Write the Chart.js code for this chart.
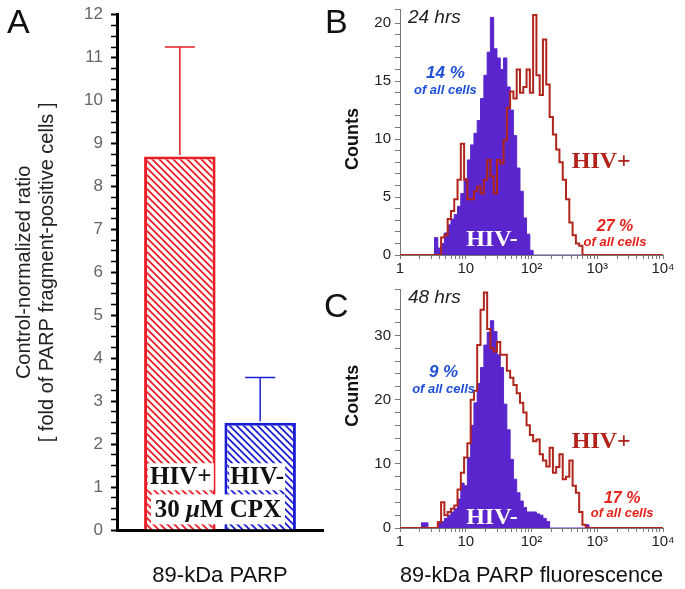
<!DOCTYPE html>
<html>
<head>
<meta charset="utf-8">
<script src="https://cdn.jsdelivr.net/npm/chart.js@4.4.0/dist/chart.umd.min.js"></script>
<style>
	body { margin: 0; background: #fff; width: 685px; height: 589px; position: relative; overflow: hidden; font-family: 'Liberation Sans', Arial, sans-serif; }
	canvas { position: absolute; }
	.panel { position: absolute; font-size: 34px; color: #111; line-height: 1; }
</style>
</head>
<body>
<canvas id="barChart" style="left:0;top:0" width="340" height="589"></canvas>
<canvas id="hist24" style="left:340px;top:0" width="345" height="280"></canvas>
<canvas id="hist48" style="left:340px;top:280px" width="345" height="309"></canvas>
<div class="panel" style="left:7px;top:4px">A</div>
<div class="panel" style="left:325px;top:4px">B</div>
<div class="panel" style="left:324px;top:288px">C</div>
<script>
// panel A: 89-kDa PARP fragment, control-normalized
var barGroups = ['HIV+', 'HIV-'];
var barMeans = [8.7, 2.5];
var barErrors = [2.55, 1.05];

// panels B, C: fluorescence channel (log scale) and counts per channel
var channels = [1,
	2.00, 2.24, 2.51, 2.82, 3.16, 3.55, 3.98, 4.47, 5.01, 5.62, 6.31, 7.08, 7.94, 8.91,
	10.0, 11.2, 12.6, 14.1, 15.8, 17.8, 20.0, 22.4, 25.1, 28.2, 31.6, 35.5, 39.8, 44.7, 50.1, 56.2, 63.1, 70.8, 79.4, 89.1,
	100, 112, 126, 141, 158, 178, 200, 224, 251, 282, 316, 355, 398, 447, 501, 562, 631, 708, 794,
	10000];
var neg24 = [0,
	0, 0, 0, 0, 0, 1.5, 0.6, 1.0, 1.9, 2.6, 3.1, 3.5, 4.2, 5.3,
	6.6, 8.2, 9.5, 10.5, 11.6, 13.5, 15.5, 17.5, 20.5, 17.8, 17.0, 16.0, 17.0, 14.5, 12.5, 10.3, 7.5, 5.5, 3.2, 1.8,
	0.4, 0, 0, 0, 0, 0, 0, 0, 0, 0, 0, 0, 0, 0, 0, 0, 0, 0, 0,
	0];
var pos24 = [0,
	0, 0, 0, 0, 0, 0, 0, 1.5, 1.7, 3.1, 3.8, 4.8, 6.5, 9.6,
	6.5, 4.8, 4.8, 5.5, 5.9, 5.3, 6.5, 8.2, 6.8, 5.3, 8.2, 7.9, 9.9, 12.7, 14.1, 13.5, 16.0, 14.0, 14.5, 16.0,
	14.0, 20.7, 15.5, 13.8, 18.6, 14.7, 11.9, 10.4, 9.1, 8.0, 6.5, 4.8, 2.8, 1.7, 1.0, 0.8, 0, 0, 0,
	0];
var neg48 = [0,
	0, 0.8, 0.8, 0, 0, 0, 1.0, 1.0, 1.5, 2.0, 2.5, 3.0, 4.5, 7.0,
	6.6, 11.0, 16.0, 19.5, 22.5, 25.0, 28.5, 30.5, 32.3, 30.6, 27.0, 25.0, 19.3, 15.3, 10.7, 7.6, 5.5, 4.2, 3.2, 2.5,
	2.5, 2.5, 2.2, 2.0, 1.5, 1.0, 0, 0, 0, 0, 0, 0, 0, 0, 0, 0, 0, 0.5, 0,
	0];
var pos48 = [0,
	0, 0, 0, 0, 0, 0, 0.9, 4.0, 2.0, 2.5, 3.0, 3.5, 6.0, 8.6,
	11.0, 13.2, 20.0, 21.4, 28.5, 34.0, 36.7, 31.0, 28.0, 27.5, 29.0, 27.0, 27.0, 24.5, 23.4, 22.3, 21.0, 19.5, 18.0, 16.0,
	14.5, 13.5, 13.8, 11.5, 10.5, 9.6, 12.5, 8.6, 9.5, 11.5, 7.6, 8.0, 10.5, 6.6, 5.5, 2.5, 0.5, 0, 0,
	0];
var xTickLabels = ['1', '10', '10\u00B2', '10\u00B3', '10\u2074'];

var barColors = ['#ea1d25', '#1b1fd4'];
var purple = '#5a25cc';
var lineRed = '#b0261d';
var sans = "'Liberation Sans', Arial, sans-serif";
var serif = "'Liberation Serif', 'Times New Roman', serif";

Chart.defaults.font.family = sans;
Chart.defaults.animation = false;
Chart.defaults.responsive = false;
Chart.defaults.plugins.legend.display = false;
Chart.defaults.plugins.tooltip.enabled = false;

function hatch(color) {
	var c = document.createElement('canvas');
	c.width = 7; c.height = 7;
	var g = c.getContext('2d');
	g.fillStyle = '#fff';
	g.fillRect(0, 0, 7, 7);
	g.strokeStyle = color;
	g.lineWidth = 1.8;
	g.beginPath();
	g.moveTo(-1, -1); g.lineTo(8, 8);
	g.moveTo(-1, 6); g.lineTo(1, 8);
	g.moveTo(6, -1); g.lineTo(8, 1);
	g.stroke();
	return g.createPattern(c, 'repeat');
}

var errorBars = {
	id: 'errorBars',
	afterDatasetsDraw: function (chart) {
		var ctx = chart.ctx, y = chart.scales.y;
		chart.data.datasets.forEach(function (ds, i) {
			var bar = chart.getDatasetMeta(i).data[0];
			var top = y.getPixelForValue(barMeans[i] + barErrors[i]);
			ctx.save();
			ctx.strokeStyle = barColors[i];
			ctx.lineWidth = 1.5;
			ctx.beginPath();
			ctx.moveTo(bar.x, bar.y - 1.5);
			ctx.lineTo(bar.x, top);
			ctx.moveTo(bar.x - 15, top);
			ctx.lineTo(bar.x + 15, top);
			ctx.stroke();
			ctx.restore();
		});
	}
};

function boxText(ctx, parts, cx, cy, w, h) {
	ctx.fillStyle = '#fff';
	ctx.fillRect(cx - w / 2, cy - h / 2, w, h);
	var total = 0;
	parts.forEach(function (p) { ctx.font = p[1]; total += ctx.measureText(p[0]).width; });
	var x = cx - total / 2;
	ctx.fillStyle = '#111';
	ctx.textBaseline = 'middle';
	ctx.textAlign = 'left';
	parts.forEach(function (p) {
		ctx.font = p[1];
		ctx.fillText(p[0], x, cy + 1);
		x += ctx.measureText(p[0]).width;
	});
}

var barNotes = {
	id: 'barNotes',
	afterDatasetsDraw: function (chart) {
		var ctx = chart.ctx, y = chart.scales.y;
		var b0 = chart.getDatasetMeta(0).data[0], b1 = chart.getDatasetMeta(1).data[0];
		var f = 'bold 25px ' + serif;
		ctx.save();
		boxText(ctx, [['HIV+', f]], b0.x + 1, y.getPixelForValue(1.24), 66, 27);
		boxText(ctx, [['HIV-', f]], b1.x - 3, y.getPixelForValue(1.24), 56, 27);
		boxText(ctx, [['30 ', f], ['\u03BC', 'bold italic 25px ' + serif], ['M CPX', f]], (b0.x + b1.x) / 2 - 2, y.getPixelForValue(0.48), 134, 30);
		ctx.restore();
	}
};

new Chart(document.getElementById('barChart'), {
	type: 'bar',
	data: {
		labels: ['89-kDa PARP'],
		datasets: barGroups.map(function (g, i) {
			return {
				label: g,
				data: [barMeans[i]],
				backgroundColor: hatch(barColors[i]),
				borderColor: barColors[i],
				borderWidth: 3,
				categoryPercentage: 0.78,
				barPercentage: 0.89
			};
		})
	},
	options: {
		layout: { padding: { right: 17 } },
		scales: {
			x: {
				grid: { drawOnChartArea: false, drawTicks: false },
				border: { color: '#000', width: 3 },
				ticks: { padding: 33, color: '#111', font: { size: 22 } },
				afterFit: function (s) { s.height = 59; }
			},
			y: {
				min: 0, max: 12,
				ticks: {
					stepSize: 0.25, autoSkip: false, padding: 8, color: '#666',
					font: { size: 17, lineHeight: 0.8 },
					callback: function (v) { return Number.isInteger(v) ? v : ''; }
				},
				grid: {
					drawOnChartArea: false, color: '#000', tickLength: 6,
					tickWidth: function (c) { return c.tick && Number.isInteger(c.tick.value) ? 2 : 1.5; }
				},
				border: { color: '#000', width: 3 },
				title: {
					display: true,
					text: ['Control-normalized ratio', '[ fold of PARP fragment-positive cells ]'],
					color: '#222',
					font: { size: 20, lineHeight: 1.15 },
					padding: { top: 13, bottom: 0 }
				},
				afterFit: function (s) { s.width = 117; }
			}
		}
	},
	plugins: [errorBars, barNotes]
});

function notesPlugin(notes, countsY) {
	return {
		id: 'notes',
		afterDatasetsDraw: function (chart) {
			var ctx = chart.ctx, xs = chart.scales.x, ys = chart.scales.y;
			ctx.save();
			ctx.textBaseline = 'middle';
			notes.forEach(function (n) {
				ctx.font = n.font;
				ctx.fillStyle = n.color;
				ctx.textAlign = n.align || 'center';
				ctx.fillText(n.text, xs.getPixelForValue(n.x), ys.getPixelForValue(n.y));
			});
			ctx.translate(13, ys.getPixelForValue(countsY));
			ctx.rotate(-Math.PI / 2);
			ctx.textAlign = 'center';
			ctx.font = 'bold 18px ' + sans;
			ctx.fillStyle = '#111';
			ctx.fillText('Counts', 0, 0);
			ctx.restore();
		}
	};
}

function logTicks() {
	var t = [];
	for (var e = 0; e < 4; e++) {
		for (var m = 1; m < 10; m++) t.push({ value: m * Math.pow(10, e), major: m === 1 });
	}
	t.push({ value: 10000, major: true });
	return t;
}

function histogram(id, neg, pos, yMax, yStep, yMajor, axisH, xTitle, notes, countsY) {
	return new Chart(document.getElementById(id), {
		type: 'line',
		data: {
			datasets: [{
				label: 'HIV+',
				data: channels.map(function (c, i) { return { x: c, y: pos[i] }; }),
				borderColor: lineRed,
				borderWidth: 2,
				stepped: 'middle',
				pointRadius: 0,
				fill: false,
				order: 1
			}, {
				label: 'HIV-',
				data: channels.map(function (c, i) { return { x: c, y: neg[i] }; }),
				borderColor: purple,
				backgroundColor: purple,
				borderWidth: 1,
				stepped: 'middle',
				pointRadius: 0,
				fill: 'origin',
				order: 2
			}]
		},
		options: {
			layout: { padding: { right: 22 } },
			scales: {
				x: {
					type: 'logarithmic', min: 1, max: 10000,
					afterBuildTicks: function (s) { s.ticks = logTicks(); },
					ticks: {
						autoSkip: false, maxRotation: 0, padding: 1, color: '#222', font: { size: 15 },
						callback: function (v) {
							var e = Math.log10(v);
							return Math.abs(e - Math.round(e)) < 1e-9 ? xTickLabels[Math.round(e)] : '';
						}
					},
					grid: { drawOnChartArea: false, tickLength: 4, color: '#777' },
					border: { color: '#777', width: 1 },
					title: { display: !!xTitle, text: xTitle, color: '#111', font: { size: 22 }, padding: { top: 0, bottom: 0 } },
					afterFit: function (s) { s.height = axisH; }
				},
				y: {
					min: 0, max: yMax,
					ticks: {
						stepSize: yStep, autoSkip: false, padding: 4, color: '#222',
						font: { size: 15, lineHeight: 0.7 },
						callback: function (v) { return v % yMajor === 0 ? v : ''; }
					},
					grid: { drawOnChartArea: false, tickLength: 5, color: '#777' },
					border: { color: '#777', width: 1 },
					afterFit: function (s) { s.width = 60; }
				}
			}
		},
		plugins: [notesPlugin(notes, countsY)]
	});
}

var pctBlue = '#1f50d6', pctRed = '#e5221c', plusRed = '#b3231b';

histogram('hist24', neg24, pos24, 21.2, 1, 5, 25, '', [
	{ text: '24 hrs', x: 1.32, y: 20.5, font: 'italic 19px ' + sans, color: '#222', align: 'left' },
	{ text: '14 %', x: 4.9, y: 15.7, font: 'bold italic 17px ' + sans, color: pctBlue },
	{ text: 'of all cells', x: 4.9, y: 14.2, font: 'bold italic 13px ' + sans, color: pctBlue },
	{ text: 'HIV+', x: 1150, y: 8.0, font: 'bold 24px ' + serif, color: plusRed },
	{ text: '27 %', x: 1860, y: 2.45, font: 'bold italic 16px ' + sans, color: pctRed },
	{ text: 'of all cells', x: 1860, y: 1.1, font: 'bold italic 13px ' + sans, color: pctRed },
	{ text: 'HIV-', x: 25, y: 1.3, font: 'bold 24px ' + serif, color: '#fff' }
], 10.0);

histogram('hist48', neg48, pos48, 37.2, 2, 10, 61, '89-kDa PARP fluorescence', [
	{ text: '48 hrs', x: 1.32, y: 35.9, font: 'italic 19px ' + sans, color: '#222', align: 'left' },
	{ text: '9 %', x: 4.6, y: 24.2, font: 'bold italic 17px ' + sans, color: pctBlue },
	{ text: 'of all cells', x: 4.6, y: 21.6, font: 'bold italic 13px ' + sans, color: pctBlue },
	{ text: 'HIV+', x: 1150, y: 13.5, font: 'bold 24px ' + serif, color: plusRed },
	{ text: '17 %', x: 2390, y: 4.6, font: 'bold italic 16px ' + sans, color: pctRed },
	{ text: 'of all cells', x: 2390, y: 2.3, font: 'bold italic 13px ' + sans, color: pctRed },
	{ text: 'HIV-', x: 25, y: 1.6, font: 'bold 24px ' + serif, color: '#fff' }
], 20.6);
</script>
</body>
</html>
